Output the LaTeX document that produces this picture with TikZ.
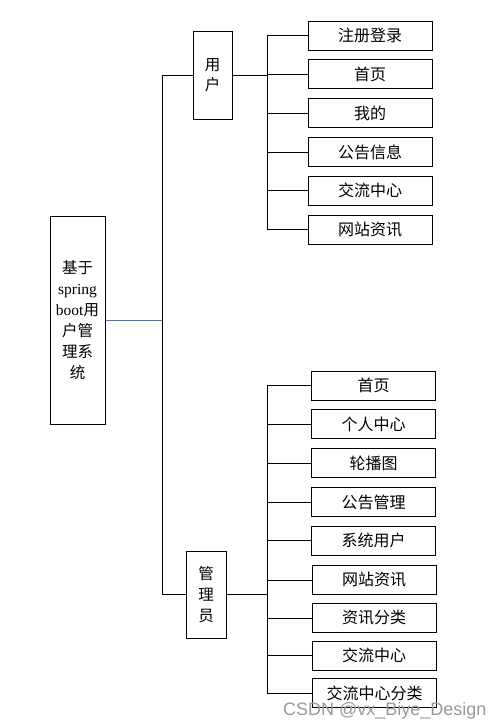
\documentclass[tikz,border=0pt]{standalone}
\usepackage{fontspec}
\setmainfont{Noto Sans CJK SC}
\newfontfamily\latinfont{Liberation Serif}
\newfontfamily\markfont{Liberation Sans}
\usetikzlibrary{positioning}
\definecolor{linkblue}{RGB}{68,114,196}

\begin{document}
\begin{tikzpicture}[x=1pt,y=-1pt,
font=\fontsize{15.5}{21}\selectfont,
box/.style={draw,line width=1pt,inner sep=0pt,align=center},
leaf/.style={box,minimum width=124pt,minimum height=29pt,font=\fontsize{16}{20}\selectfont},
link/.style={line width=1pt}]
    \useasboundingbox (0,0) rectangle (503,728);

    % root and the two roles
    \node[box,minimum width=55pt,minimum height=208pt] (root) at (77.5,320.5)
        {基于\\{\latinfont spring}\\{\latinfont boot}用\\户管\\理系\\统};
    \node[box,minimum width=39pt,minimum height=88pt,font=\fontsize{15.5}{20}\selectfont] (user) at (212.5,75.5) {用\\户};
    \node[box,minimum width=40pt,minimum height=87pt] (admin) at (206,594.5) {管\\理\\员};

    \coordinate (trunk) at (162.5,320.5);
    \coordinate (ubus) at (267.5,75.5);
    \coordinate (abus) at (267.5,594.5);

    % user pages
    \node[leaf] (u1) at (370,35.5) {注册登录};
    \node[leaf] (u2) at (370,74) {首页};
    \node[leaf] (u3) at (370,113) {我的};
    \node[leaf] (u4) at (370,152) {公告信息};
    \node[leaf] (u5) at (370,190.5) {交流中心};
    \node[leaf] (u6) at (370,229.5) {网站资讯};

    % admin pages
    \node[leaf] (a1) at (373.5,385.5) {首页};
    \node[leaf] (a2) at (373.5,424) {个人中心};
    \node[leaf] (a3) at (373.5,463) {轮播图};
    \node[leaf] (a4) at (373.5,502) {公告管理};
    \node[leaf] (a5) at (373.5,540.5) {系统用户};
    \node[leaf] (a6) at (374,580) {网站资讯};
    \node[leaf] (a7) at (374,618) {资讯分类};
    \node[leaf] (a8) at (374,655.5) {交流中心};
    \node[leaf] (a9) at (374.5,693) {交流中心分类};

    % links
    \draw[link,linkblue] (root.east) -- (trunk);
    \draw[link] (user.west) -| (trunk) |- (admin.west);
    \draw[link] (user.east) -- (ubus);
    \draw[link] (admin.east) -- (abus);
    \draw[link] (ubus) |- (u1.west);
    \draw[link] (ubus) |- (u2.west);
    \draw[link] (ubus) |- (u3.west);
    \draw[link] (ubus) |- (u4.west);
    \draw[link] (ubus) |- (u5.west);
    \draw[link] (ubus) |- (u6.west);
    \draw[link] (abus) |- (a1.west);
    \draw[link] (abus) |- (a2.west);
    \draw[link] (abus) |- (a3.west);
    \draw[link] (abus) |- (a4.west);
    \draw[link] (abus) |- (a5.west);
    \draw[link] (abus) |- (a6.west);
    \draw[link] (abus) |- (a7.west);
    \draw[link] (abus) |- (a8.west);
    \draw[link] (abus) |- (a9.west);

    \node[font=\markfont\fontsize{18}{18}\selectfont,text=gray!80,anchor=base west,inner sep=0pt] (mark) at (283,715) {CSDN @vx\_Biye\_Design};
\end{tikzpicture}
\end{document}
